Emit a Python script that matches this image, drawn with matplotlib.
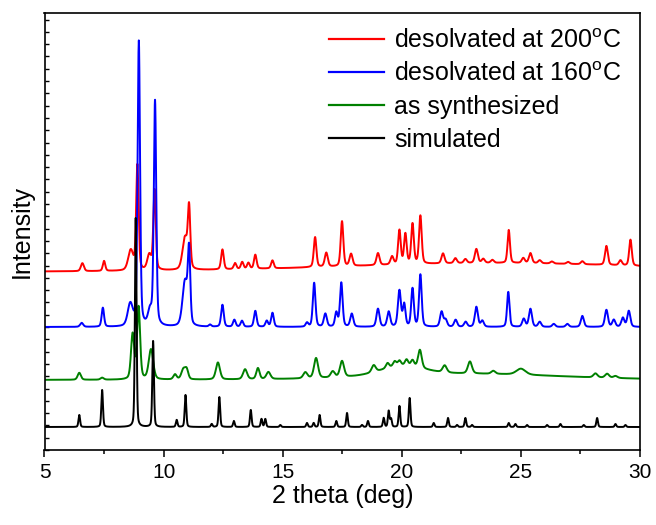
import numpy as np
import matplotlib
matplotlib.use("Agg")
import matplotlib.pyplot as plt
from matplotlib.ticker import MultipleLocator

plt.rcParams['font.family'] = ['Liberation Sans', 'DejaVu Sans']
plt.rcParams['mathtext.fontset'] = 'custom'
plt.rcParams['mathtext.rm'] = 'Liberation Sans'
plt.rcParams['ytick.direction'] = 'in'
plt.rcParams['xtick.direction'] = 'out'

# ---- data: peak lists (2theta, height, fwhm) ----
sim_pos = [6.46, 7.42, 8.83, 9.56, 10.55, 10.92, 12.02, 12.34, 12.95, 13.66, 14.11, 14.27, 14.9,
           16.02, 16.3, 16.55, 17.25, 17.7, 18.33, 18.58, 19.24, 19.45, 19.55, 19.9, 20.33, 21.34,
           21.94, 22.32, 22.67, 22.95, 24.49, 24.77, 25.26, 26.1, 26.66, 27.64, 28.2, 28.97, 29.39]
sim_h = [12, 37, 209, 86, 7, 32, 3, 30, 6, 17, 8, 8, 2,
         4, 4, 12, 6, 14, 2, 6, 9, 16, 8, 21, 29, 4,
         9, 2, 9, 2, 4, 3, 2, 2, 3, 2, 9, 3, 2]
sim_base = 23

syn_pos = [6.46, 7.42, 8.70, 8.95, 9.47, 10.48, 10.83, 10.97, 12.28, 13.42, 13.96, 14.4, 15.95,
           16.4, 17.1, 17.49, 18.82, 19.4, 19.7, 19.9, 20.2, 20.45, 20.76, 21.8, 22.86, 23.84,
           25.0, 28.13, 28.62, 28.97, 20.0, 23.0]
syn_h = [7, 2, 45, 72, 30, 5, 10, 9, 17, 10, 11, 7, 6,
         20, 6, 16, 7, 5, 5, 5, 6, 6, 18, 7, 12, 3,
         6, 4, 4, 2, 10, 6]
syn_w = [0.16, 0.16, 0.16, 0.15, 0.22, 0.16, 0.2, 0.16, 0.2, 0.2, 0.16, 0.2, 0.2,
         0.2, 0.2, 0.2, 0.2, 0.16, 0.16, 0.16, 0.16, 0.16, 0.18, 0.2, 0.2, 0.2,
         0.45, 0.2, 0.2, 0.2, 2.2, 9.0]
syn_base = 70

blue_pos = [6.56, 7.45, 8.6, 8.96, 9.43, 9.64, 10.9, 11.07, 11.95, 12.47, 12.97, 13.29, 13.85,
            14.33, 14.57, 16.02, 16.32, 16.79, 17.25, 17.46, 17.9, 19.0, 19.45, 19.9, 20.1,
            20.45, 20.78, 21.67, 21.84, 22.26, 22.68, 23.13, 23.38, 24.47, 25.12, 25.4, 25.79,
            26.38, 26.95, 27.58, 28.59, 28.9, 29.28, 29.53]
blue_h = [4, 19, 22, 285, 14, 225, 45, 70, 2, 22, 7, 6, 16,
          6, 14, 4, 44, 13, 14, 44, 13, 18, 15, 36, 22,
          38, 52, 15, 7, 7, 5, 20, 6, 35, 8, 18, 5,
          3, 3, 11, 17, 7, 9, 16]
blue_w = [0.15, 0.12, 0.25, 0.12, 0.2, 0.12, 0.25, 0.12, 0.12, 0.13, 0.13, 0.13, 0.13,
          0.13, 0.13, 0.13, 0.13, 0.15, 0.13, 0.13, 0.15, 0.15, 0.15, 0.15, 0.13,
          0.13, 0.13, 0.15, 0.15, 0.15, 0.15, 0.15, 0.15, 0.12, 0.15, 0.15, 0.15,
          0.15, 0.15, 0.15, 0.15, 0.15, 0.15, 0.15]
blue_base = 123

red_pos = [6.59, 7.5, 8.62, 8.9, 9.4, 9.62, 10.9, 11.07, 12.47, 13.0, 13.3, 13.56, 13.85,
           14.57, 16.36, 16.83, 17.49, 17.87, 19.0, 19.59, 19.9, 20.15, 20.45, 20.78, 21.73,
           22.25, 22.67, 23.13, 23.42, 23.8, 24.49, 25.1, 25.4, 25.79, 26.3, 26.98, 27.58,
           28.59, 29.18, 29.6, 24.0]
red_h = [8, 10, 20, 105, 15, 80, 32, 58, 20, 6, 7, 6, 14,
         8, 30, 14, 45, 12, 12, 8, 34, 30, 40, 48, 10,
         5, 4, 14, 4, 3, 33, 5, 10, 3, 2, 2, 3,
         19, 5, 26, 9]
red_w = [0.15, 0.12, 0.25, 0.12, 0.2, 0.12, 0.25, 0.12, 0.13, 0.13, 0.13, 0.13, 0.13,
         0.13, 0.13, 0.15, 0.13, 0.15, 0.15, 0.15, 0.13, 0.13, 0.13, 0.13, 0.15,
         0.15, 0.15, 0.15, 0.15, 0.15, 0.12, 0.15, 0.15, 0.15, 0.15, 0.15, 0.15,
         0.14, 0.15, 0.13, 16.0]
red_base = 178

labels = ["desolvated at 200$^{\\mathrm{o}}$C", "desolvated at 160$^{\\mathrm{o}}$C",
          "as synthesized", "simulated"]
colors = ["#ff0000", "#0000ff", "#008000", "#000000"]


def pattern(x, pos, h, w, base, eta=0.35):
    y = np.full_like(x, float(base))
    for p, a, fw in zip(pos, h, w):
        g = np.exp(-4 * np.log(2) * ((x - p) / fw) ** 2)
        l = 1.0 / (1.0 + 4 * ((x - p) / fw) ** 2)
        y += a * (eta * l + (1 - eta) * g)
    return y


x = np.linspace(5, 30, 6001)
y_red = pattern(x, red_pos, red_h, red_w, red_base)
y_blue = pattern(x, blue_pos, blue_h, blue_w, blue_base)
y_syn = pattern(x, syn_pos, syn_h, syn_w, syn_base)
y_sim = pattern(x, sim_pos, sim_h, [0.08] * len(sim_pos), sim_base, eta=0.3)

fig = plt.figure(figsize=(6.56, 5.25), dpi=100)
ax = fig.add_axes([44.5 / 656, 1 - 450 / 525, (640 - 44.5) / 656, (450 - 12.7) / 525])

for y, c, lab in zip([y_red, y_blue, y_syn, y_sim], colors, labels):
    ax.plot(x, y, color=c, lw=1.4, label=lab)

ax.set_xlim(5, 30)
ax.set_ylim(0, 437.3)
ax.xaxis.set_major_locator(MultipleLocator(5))
ax.xaxis.set_minor_locator(MultipleLocator(2.5))
ax.yaxis.set_major_locator(MultipleLocator(12.3))
ax.tick_params(axis='x', which='major', direction='out', length=5, width=1.1,
               labelsize=15, pad=4)
ax.tick_params(axis='x', which='minor', direction='out', length=3, width=1.1)
ax.tick_params(axis='y', which='both', direction='in', length=3, width=1.0, left=True,
               right=False, labelleft=False)
for s in ax.spines.values():
    s.set_linewidth(1.2)

ax.set_xlabel("2 theta (deg)", fontsize=18, labelpad=2)
ax.set_ylabel("Intensity", fontsize=18, labelpad=8)

leg = ax.legend(loc='upper left', bbox_to_anchor=(329 / 656, 1 - 29 / 525),
                bbox_transform=fig.transFigure, frameon=False, fontsize=18,
                handlelength=2.2, handletextpad=0.4, labelspacing=0.36,
                borderpad=0, borderaxespad=0)
for ln in leg.get_lines():
    ln.set_linewidth(1.6)

fig.savefig("out.png", dpi=100)
